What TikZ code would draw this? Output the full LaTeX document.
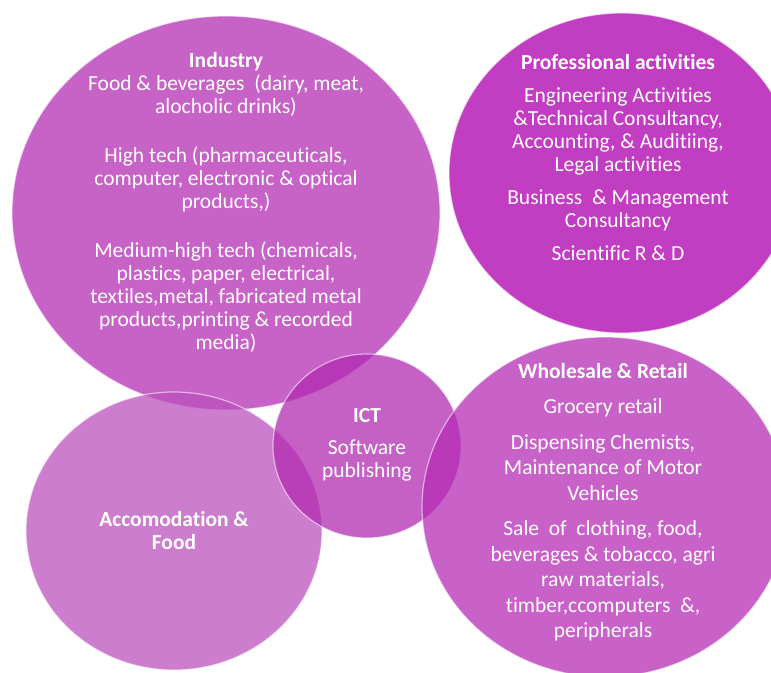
\documentclass[tikz,border=0pt]{standalone}
\usepackage{fontspec}
\setmainfont[Ligatures=CommonOff]{Carlito}
\usetikzlibrary{shapes.geometric}

\definecolor{indcol}{RGB}{180,45,180}
\definecolor{profcol}{RGB}{182,27,183}
\definecolor{accomcol}{RGB}{188,81,188}
\definecolor{ictcol}{RGB}{177,43,177}
\definecolor{retailcol}{RGB}{181,45,181}

\tikzset{
  bubble/.style={ellipse, draw=white, draw opacity=0.55, line width=1.2pt, fill opacity=0.75, inner sep=0pt},
  bubbletext/.style={text=white, align=center, inner sep=0pt, anchor=north, font=\fontsize{21.5}{23}\selectfont}
}

\begin{document}
\begin{tikzpicture}[x=1pt, y=-1pt]
  \useasboundingbox (0,0) rectangle (771,672);
  % sectors
  \node (industry) [bubble, fill=indcol, minimum width=428pt, minimum height=394pt] at (226,213) {};
  \node (prof) [bubble, fill=profcol, fill opacity=0.85, minimum width=346pt, minimum height=320pt] at (622,173) {};
  \node (accom) [bubble, fill=accomcol, minimum width=296pt, minimum height=278pt] at (174,531) {};
  \node (ict) [bubble, fill=ictcol, minimum width=188pt, minimum height=184pt] at (367,446) {};
  \node (retail) [bubble, fill=retailcol, minimum width=366pt, minimum height=340pt] at (605,507) {};
  % texts
  \node (industrytext) [bubbletext] at (226,52) {\textbf{Industry}\\
    Food \& beverages\ \ (dairy, meat,\\
    alocholic drinks)\\[26pt]
    High tech (pharmaceuticals,\\
    computer, electronic \& optical\\
    products,)\\[26pt]
    Medium-high tech (chemicals,\\
    plastics, paper, electrical,\\
    textiles,metal, fabricated metal\\
    products,printing \& recorded\\
    media)};
  \node (proftext) [bubbletext] at (618,54) {\textbf{Professional activities}\\[10pt]
    Engineering Activities\\
    \&Technical Consultancy,\\
    Accounting, \& Auditiing,\\
    Legal activities\\[10pt]
    Business\ \ \& Management\\
    Consultancy\\[10pt]
    Scientific R \& D};
  \node (icttext) [bubbletext] at (367,408) {\textbf{ICT}\\[9pt]
    Software\\
    publishing};
  \node (accomtext) [bubbletext] at (174,511) {\textbf{Accomodation \&}\\
    \textbf{Food}};
  \node (retailtext) [bubbletext, font=\fontsize{21.5}{25.5}\selectfont] at (603,363) {\textbf{Wholesale \& Retail}\\[10pt]
    Grocery retail\\[10pt]
    Dispensing Chemists,\\
    Maintenance of Motor\\
    Vehicles\\[10pt]
    Sale\ \ of\ \ clothing, food,\\
    beverages \& tobacco, agri\\
    raw materials,\\
    timber,ccomputers\ \ \&,\\
    peripherals};
\end{tikzpicture}
\end{document}
